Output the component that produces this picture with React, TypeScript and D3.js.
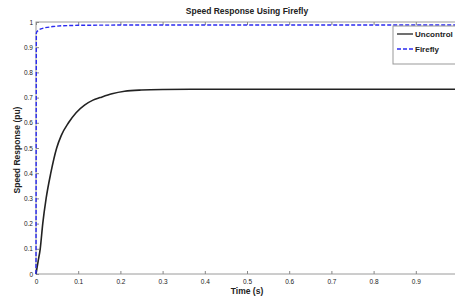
import React, { useRef, useEffect } from 'react'
import * as d3 from 'd3'

// time (s) and speed (pu)
const uncontrolT = [0, 0.005, 0.01, 0.016, 0.024, 0.035, 0.049, 0.06, 0.077, 0.095, 0.115, 0.135, 0.152, 0.18, 0.21, 0.25, 0.3, 0.4, 1.0]
const uncontrolV = [0, 0.05, 0.1, 0.2, 0.3, 0.4, 0.5, 0.55, 0.6, 0.64, 0.67, 0.69, 0.7, 0.715, 0.725, 0.73, 0.732, 0.733, 0.733]
const fireflyT = [0, 0.0004, 0.0008, 0.002, 0.01, 0.02, 0.04, 0.06, 0.1, 0.2, 1.0]
const fireflyV = [0, 0.5, 0.955, 0.962, 0.972, 0.977, 0.982, 0.985, 0.987, 0.988, 0.988]
const xTicks = [0, 0.1, 0.2, 0.3, 0.4, 0.5, 0.6, 0.7, 0.8, 0.9]
const yTicks = [0, 0.1, 0.2, 0.3, 0.4, 0.5, 0.6, 0.7, 0.8, 0.9, 1]
const seriesNames = ['Uncontrol', 'Firefly']

const width = 455
const height = 299
const margin = { top: 22, right: -3, bottom: 25, left: 36 }
const font = 'Liberation Sans, Arial, sans-serif'

const App = () => {
  const svgRef = useRef<SVGSVGElement>(null)

  useEffect(() => {
    const svg = d3.select(svgRef.current)
    svg.selectAll('*').remove()

    const x = d3.scaleLinear().domain([0, 1]).range([margin.left, width - margin.right])
    const y = d3.scaleLinear().domain([0, 1]).range([height - margin.bottom, margin.top])

    // frame
    svg
      .append('rect')
      .attr('x', x(0))
      .attr('y', y(1))
      .attr('width', x(1) - x(0))
      .attr('height', y(0) - y(1))
      .attr('fill', 'white')
      .attr('stroke', '#9a9a9a')
      .attr('stroke-width', 1)

    // inward ticks, bottom and left (with mirrored ones on top/right)
    const xAxis = (g: any) =>
      g
        .attr('transform', `translate(0,${y(0)})`)
        .call(d3.axisBottom(x).tickValues(xTicks).tickSize(-3).tickPadding(5).tickFormat(d3.format('~g')))
        .call((g: any) => g.select('.domain').remove())
    const yAxis = (g: any) =>
      g
        .attr('transform', `translate(${x(0)},0)`)
        .call(d3.axisLeft(y).tickValues(yTicks).tickSize(-3).tickPadding(3).tickFormat(d3.format('~g')))
        .call((g: any) => g.select('.domain').remove())

    svg.append('g').call(xAxis)
    svg.append('g').call(yAxis)
    svg
      .append('g')
      .attr('transform', `translate(0,${y(1)})`)
      .call(d3.axisTop(x).tickValues(xTicks).tickSize(-3).tickFormat(() => ''))
      .call(g => g.select('.domain').remove())

    svg.selectAll('.tick line').attr('stroke', '#888')
    svg
      .selectAll('.tick text')
      .attr('font-family', font)
      .attr('font-size', 6.5)
      .attr('fill', '#222')

    const line = d3
      .line<[number, number]>()
      .x(d => x(d[0]))
      .y(d => y(d[1]))

    const uData = uncontrolT.map((t, i) => [t, uncontrolV[i]] as [number, number])
    const fData = fireflyT.map((t, i) => [t, fireflyV[i]] as [number, number])

    svg
      .append('path')
      .attr('d', line.curve(d3.curveMonotoneX)(uData))
      .attr('fill', 'none')
      .attr('stroke', '#222')
      .attr('stroke-width', 1.6)

    svg
      .append('path')
      .attr('d', line.curve(d3.curveLinear)(fData))
      .attr('fill', 'none')
      .attr('stroke', '#2b2bf0')
      .attr('stroke-width', 1.4)
      .attr('stroke-dasharray', '4,2')

    // title and axis labels
    svg
      .append('text')
      .attr('x', 247)
      .attr('y', 14)
      .attr('text-anchor', 'middle')
      .attr('font-family', font)
      .attr('font-weight', 'bold')
      .attr('font-size', 8.5)
      .attr('fill', '#222')
      .text('Speed Response Using Firefly')

    svg
      .append('text')
      .attr('x', 247)
      .attr('y', 294)
      .attr('text-anchor', 'middle')
      .attr('font-family', font)
      .attr('font-weight', 'bold')
      .attr('font-size', 8.5)
      .attr('fill', '#222')
      .text('Time (s)')

    svg
      .append('text')
      .attr('transform', `translate(20,150) rotate(-90)`)
      .attr('text-anchor', 'middle')
      .attr('font-family', font)
      .attr('font-weight', 'bold')
      .attr('font-size', 8.5)
      .attr('fill', '#222')
      .text('Speed Response (pu)')

    // legend
    const legend = svg.append('g').attr('transform', 'translate(393,26)')
    legend
      .append('rect')
      .attr('width', 70)
      .attr('height', 38)
      .attr('fill', 'white')
      .attr('stroke', '#999')
    const styles = [
      { stroke: '#222', dash: null },
      { stroke: '#2b2bf0', dash: '4,2' }
    ]
    seriesNames.forEach((name, i) => {
      const yy = 8 + i * 15
      legend
        .append('line')
        .attr('x1', 4)
        .attr('x2', 20)
        .attr('y1', yy)
        .attr('y2', yy)
        .attr('stroke', styles[i].stroke)
        .attr('stroke-width', 1.3)
        .attr('stroke-dasharray', styles[i].dash)
      legend
        .append('text')
        .attr('x', 22)
        .attr('y', yy + 3)
        .attr('font-family', font)
        .attr('font-weight', 'bold')
        .attr('font-size', 8)
        .attr('fill', '#222')
        .text(name)
    })
  }, [])

  return (
    <svg
      ref={svgRef}
      width={width}
      height={height}
      viewBox={`0,0,${width},${height}`}
      style={{ position: 'absolute', left: 0, top: 0, background: 'white' }}
    />
  )
}

export default App
